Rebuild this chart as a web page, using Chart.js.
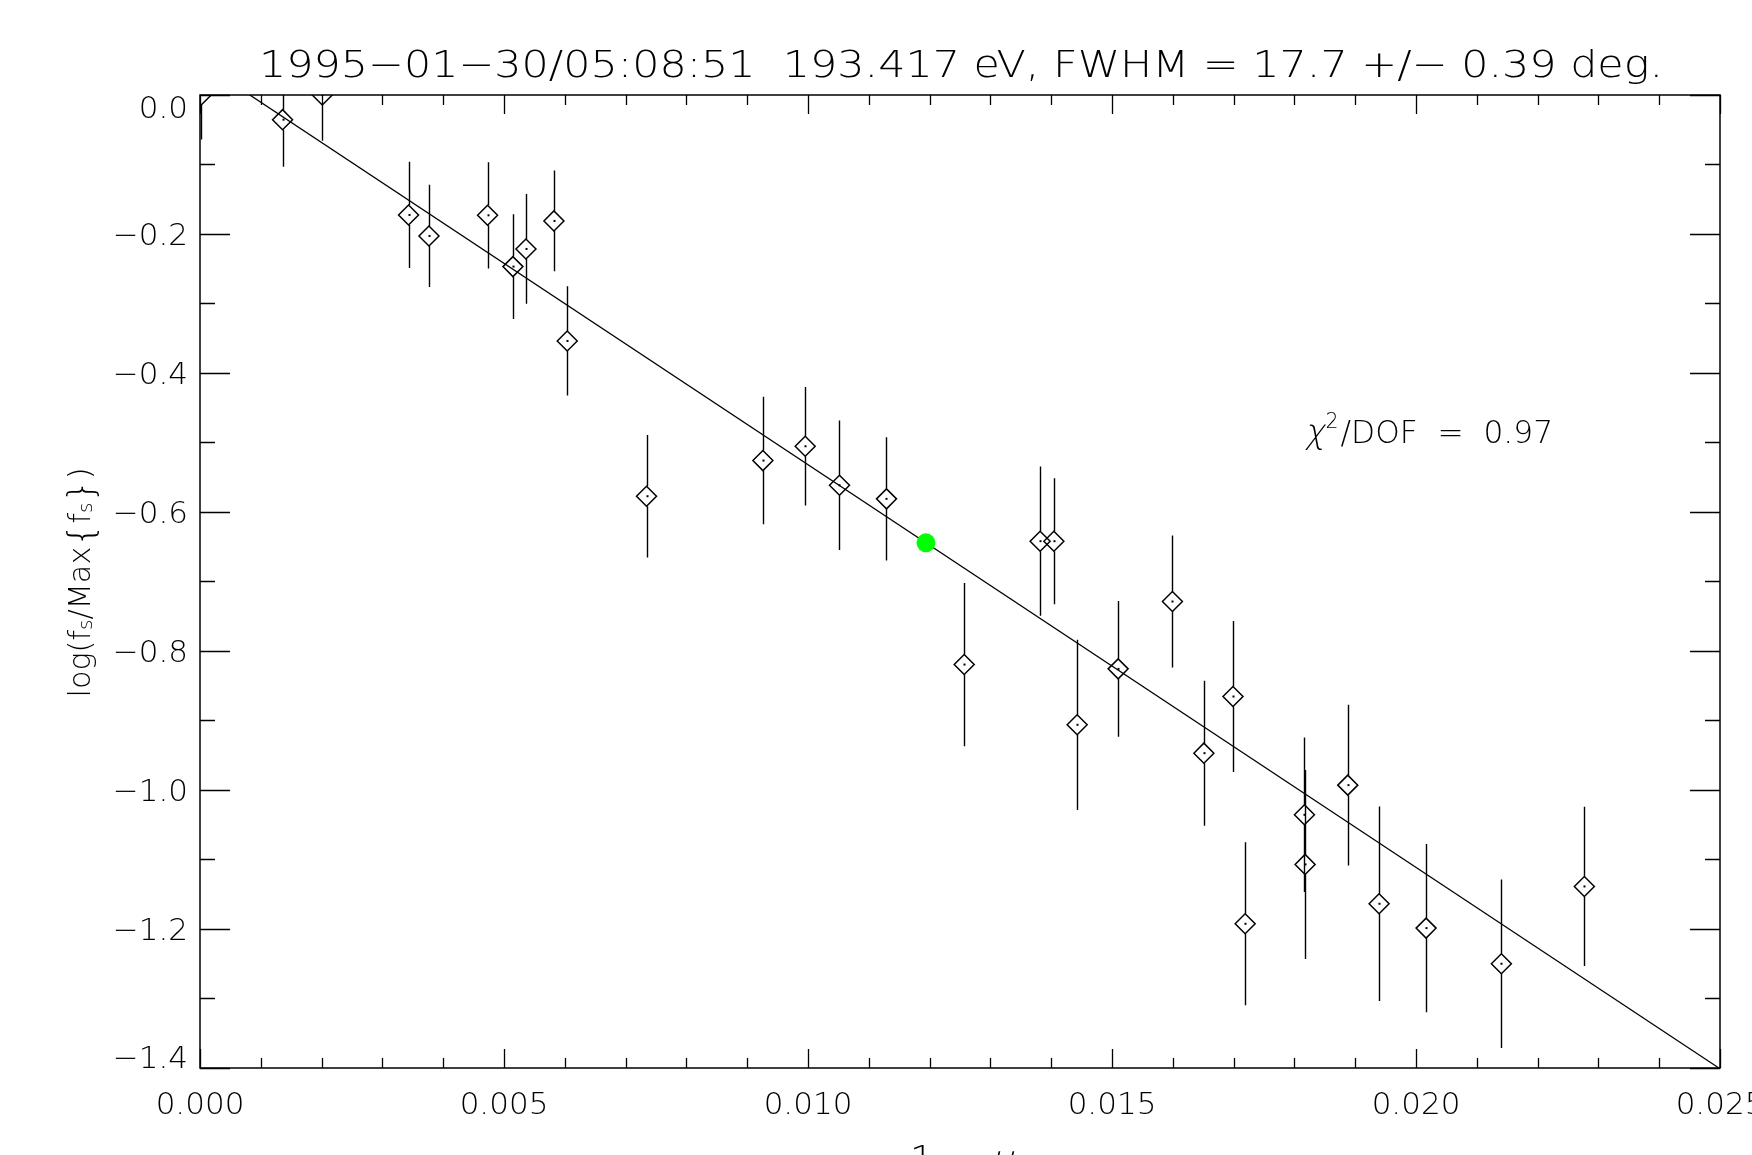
<!DOCTYPE html>
<html>
<head>
<meta charset="utf-8">
<script src="https://cdn.jsdelivr.net/npm/chart.js@4.4.1/dist/chart.umd.min.js"></script>
<style>
  html, body { margin: 0; padding: 0; background: #fff; overflow: hidden; }
  canvas { display: block; }
</style>
</head>
<body>
<canvas id="c" width="1752" height="1155"></canvas>
<script>
// Limb profile: 1 - mu versus normalised log intensity, with 1-sigma errors
const muX = [0.00002, 0.001358, 0.002011, 0.003430, 0.003766, 0.004730, 0.005147, 0.005361,
             0.005821, 0.006040, 0.007344, 0.009258, 0.009954, 0.010518, 0.011291, 0.012569,
             0.013818, 0.014044, 0.014427, 0.015101, 0.015994, 0.016511, 0.016990, 0.017190,
             0.018165, 0.018176, 0.018878, 0.019393, 0.020166, 0.021404, 0.022769];
const logF = [0.000, -0.0355, 0.000, -0.1726, -0.2028, -0.1731, -0.2469, -0.2215,
              -0.1812, -0.3539, -0.5773, -0.5260, -0.5054, -0.5615, -0.5811, -0.8195,
              -0.6420, -0.6420, -0.9062, -0.8257, -0.7288, -0.9470, -0.8655, -1.1925,
              -1.0357, -1.1071, -0.9930, -1.1637, -1.1987, -1.2500, -1.1388];
const errF = [0.064, 0.0676, 0.066, 0.0765, 0.0736, 0.0765, 0.0753, 0.0789,
              0.0724, 0.0786, 0.0882, 0.0918, 0.0854, 0.0933, 0.0887, 0.1175,
              0.1074, 0.0906, 0.1225, 0.0978, 0.0949, 0.1043, 0.1086, 0.1172,
              0.1112, 0.1359, 0.1156, 0.1398, 0.1211, 0.1211, 0.1146];

// FWHM reference point on the fitted line
const refX = [0.01194];
const refY = [-0.6444];

// Straight-line fit, end points
const fitX = [0.0, 0.025];
const fitY = [0.0475, -1.401];

// Axis ticks
const xTickValues = [0.000, 0.005, 0.010, 0.015, 0.020, 0.025];
const xTickLabels = ['0.000', '0.005', '0.010', '0.015', '0.020', '0.025'];
const yTickValues = [-1.4, -1.2, -1.0, -0.8, -0.6, -0.4, -0.2, 0.0];
const yTickLabels = ['\u22121.4', '\u22121.2', '\u22121.0', '\u22120.8', '\u22120.6', '\u22120.4', '\u22120.2', '0.0'];
const xMinorStep = 0.001;
const yMinorStep = 0.1;

const titleText = '1995\u221201\u221230/05:08:51  193.417 eV, FWHM = 17.7 +/\u2212 0.39 deg.';
const chiValue = '0.97';

const FONT = '"DejaVu Sans", "Liberation Sans", sans-serif';
const WEIGHT = '200';
const font = size => WEIGHT + ' ' + size + 'px ' + FONT;

// text runs: pieces drawn left to right, optionally shifted or slanted
function runWidth(ctx, parts) {
  let w = 0;
  for (const p of parts) { ctx.font = font(p.size); w += ctx.measureText(p.t).width + (p.gap || 0); }
  return w;
}
function drawRun(ctx, parts, x, y) {
  for (const p of parts) {
    ctx.font = font(p.size);
    ctx.save();
    ctx.translate(x, y + (p.dy || 0));
    if (p.skew) ctx.transform(1, 0, -p.skew, 1, 0, 0);
    ctx.fillText(p.t, 0, 0);
    ctx.restore();
    x += ctx.measureText(p.t).width + (p.gap || 0);
  }
}
// a run centred on cx, stretched to a given width
function drawRunFit(ctx, parts, cx, y, width) {
  const w = runWidth(ctx, parts);
  const s = width / w;
  ctx.save();
  ctx.translate(cx, y);
  ctx.scale(s, 1);
  drawRun(ctx, parts, -w / 2, 0);
  ctx.restore();
}

const errorBars = {
  id: 'errorBars',
  beforeDatasetsDraw(chart) {
    const { ctx, chartArea: a, scales: { x, y } } = chart;
    const r = 10;
    ctx.save();
    ctx.beginPath();
    ctx.rect(a.left, a.top, a.right - a.left, a.bottom - a.top);
    ctx.clip();
    ctx.strokeStyle = '#000';
    ctx.fillStyle = '#000';
    ctx.lineWidth = 1.4;
    for (let i = 0; i < muX.length; i++) {
      const px = Math.round(x.getPixelForValue(muX[i])) + 0.5;
      const py = y.getPixelForValue(logF[i]);
      const top = y.getPixelForValue(logF[i] + errF[i]);
      const bot = y.getPixelForValue(logF[i] - errF[i]);
      ctx.beginPath();
      ctx.moveTo(px, top); ctx.lineTo(px, py - r);
      ctx.moveTo(px, py + r); ctx.lineTo(px, bot);
      ctx.stroke();
      ctx.fillRect(px - 1, py - 1, 2, 2);
    }
    ctx.restore();
  }
};

const frame = {
  id: 'frame',
  afterDraw(chart) {
    const { ctx, chartArea: a, scales: { x, y } } = chart;
    ctx.save();
    ctx.strokeStyle = '#000';
    ctx.lineWidth = 1.5;
    ctx.strokeRect(a.left, a.top, a.right - a.left, a.bottom - a.top);

    ctx.lineWidth = 1.3;
    ctx.beginPath();
    // x ticks (bottom and top, pointing inward)
    for (let v = x.min; v <= x.max + 1e-9; v += xMinorStep) {
      const px = Math.round(x.getPixelForValue(v)) + 0.5;
      const major = xTickValues.some(t => Math.abs(t - v) < 1e-9);
      const len = major ? 19 : 10;
      ctx.moveTo(px, a.bottom); ctx.lineTo(px, a.bottom - len);
      ctx.moveTo(px, a.top); ctx.lineTo(px, a.top + len);
    }
    // y ticks (left and right, pointing inward)
    for (let v = y.min; v <= y.max + 1e-9; v += yMinorStep) {
      const py = Math.round(y.getPixelForValue(v)) + 0.5;
      const major = yTickValues.some(t => Math.abs(t - v) < 1e-9);
      const len = major ? 30 : 15;
      ctx.moveTo(a.left, py); ctx.lineTo(a.left + len, py);
      ctx.moveTo(a.right, py); ctx.lineTo(a.right - len, py);
    }
    ctx.stroke();

    ctx.fillStyle = '#000';

    // y tick labels: end labels kept inside the axis span
    ctx.font = font(31);
    ctx.textAlign = 'right';
    ctx.textBaseline = 'alphabetic';
    const last = yTickValues.length - 1;
    yTickValues.forEach((v, i) => {
      const py = y.getPixelForValue(v);
      let base = py + 11.3;
      if (i === 0) base = a.bottom;
      if (i === last) base = a.top + 23;
      ctx.fillText(yTickLabels[i], a.left - 12, base);
    });

    ctx.textAlign = 'left';

    // title
    drawRunFit(ctx, [{ t: titleText, size: 37.5 }], (a.left + a.right) / 2 + 1, 77, 1404);

    // chi-square label
    drawRunFit(ctx, [
      { t: '\u03c7', size: 34, skew: 0.22, gap: 1 },
      { t: '2', size: 21, dy: -15, gap: 2 },
      { t: '/DOF  =  ' + chiValue, size: 32 }
    ], 1429, 443, 248);

    // x-axis title
    drawRunFit(ctx, [
      { t: '1 \u2212 ', size: 36 },
      { t: '\u03bc', size: 36, skew: 0.22 }
    ], (a.left + a.right) / 2 + 2, 1171, 104);

    // y-axis title (rotated)
    ctx.save();
    ctx.translate(90, (a.top + a.bottom) / 2 + 1);
    ctx.rotate(-Math.PI / 2);
    const yParts = [
      { t: 'log(f', size: 30 },
      { t: 's', size: 20, dy: 2 },
      { t: '/Max', size: 30 },
      { t: '{', size: 36, dy: 3 },
      { t: 'f', size: 30 },
      { t: 's', size: 20, dy: 2 },
      { t: '}', size: 36, dy: 3 },
      { t: ')', size: 30 }
    ];
    drawRunFit(ctx, yParts, 0, 0, 230);
    ctx.restore();

    ctx.restore();
  }
};

const tickFont = { family: FONT, size: 31, weight: WEIGHT };

new Chart(document.getElementById('c'), {
  type: 'scatter',
  data: {
    datasets: [
      {
        data: refX.map((v, i) => ({ x: v, y: refY[i] })),
        pointStyle: 'circle',
        pointRadius: 9.5,
        pointBackgroundColor: '#00ff00',
        pointBorderWidth: 0,
        clip: 0
      },
      {
        data: muX.map((v, i) => ({ x: v, y: logF[i] })),
        pointStyle: 'rectRot',
        pointRadius: 10,
        pointBorderColor: '#000',
        pointBackgroundColor: 'rgba(0,0,0,0)',
        pointBorderWidth: 1.5,
        clip: 0
      },
      {
        data: fitX.map((v, i) => ({ x: v, y: fitY[i] })),
        showLine: true,
        borderColor: '#000',
        borderWidth: 1.3,
        pointRadius: 0,
        clip: 0
      }
    ]
  },
  options: {
    responsive: false,
    animation: false,
    devicePixelRatio: 1,
    layout: { padding: { top: 95, right: 32, left: 0, bottom: 0 } },
    plugins: { legend: { display: false }, tooltip: { enabled: false }, title: { display: false } },
    scales: {
      x: {
        type: 'linear',
        min: 0, max: 0.025,
        grid: { display: false, drawTicks: false },
        border: { display: false },
        afterBuildTicks: s => { s.ticks = xTickValues.map(v => ({ value: v })); },
        afterFit: s => { s.height = 87; s.paddingLeft = 0; s.paddingRight = 0; },
        ticks: {
          autoSkip: false, maxRotation: 0, minRotation: 0,
          padding: 19, color: '#000', font: tickFont,
          callback: (v, i) => xTickLabels[i]
        }
      },
      y: {
        type: 'linear',
        min: -1.4, max: 0,
        grid: { display: false, drawTicks: false },
        border: { display: false },
        afterBuildTicks: s => { s.ticks = yTickValues.map(v => ({ value: v })); },
        afterFit: s => { s.width = 200; s.paddingTop = 0; s.paddingBottom = 0; },
        ticks: { display: false }
      }
    }
  },
  plugins: [errorBars, frame]
});
</script>
</body>
</html>
